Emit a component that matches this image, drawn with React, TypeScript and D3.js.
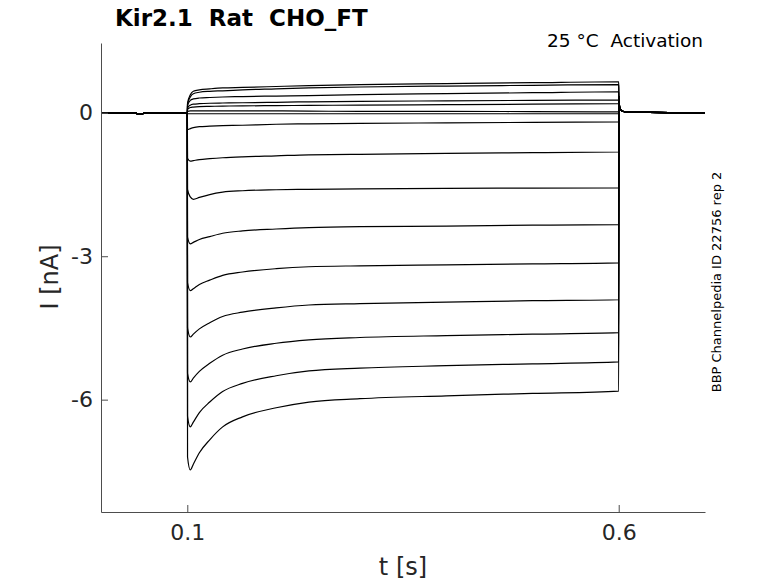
import * as d3 from "d3";
import { useEffect, useRef } from "react";

// recording window and step protocol (seconds)
const baseTimes = [0, 0.04, 0.043, 0.047, 0.051, 0.1];
const baseValues = [0, 0, -0.03, -0.03, 0, 0];

const stepTimes = [0.1003, 0.1035, 0.107, 0.114, 0.126, 0.141, 0.164, 0.203, 0.241, 0.3, 0.4, 0.5, 0.6];

const tailTimes = [0.6002, 0.601, 0.603, 0.608, 0.7];
const tailValues = [0.35, 0.12, 0.05, 0.02, 0];

// outward currents (nA)
const outwardTraces = [
  [0.2, 0.38, 0.45, 0.48, 0.5, 0.52, 0.53, 0.55, 0.57, 0.59, 0.61, 0.63, 0.65],
  [0.18, 0.33, 0.4, 0.43, 0.45, 0.46, 0.48, 0.5, 0.52, 0.54, 0.56, 0.575, 0.59],
  [0.15, 0.26, 0.29, 0.31, 0.32, 0.33, 0.34, 0.35, 0.36, 0.38, 0.4, 0.42, 0.44],
  [0.1, 0.16, 0.18, 0.19, 0.2, 0.205, 0.21, 0.22, 0.23, 0.24, 0.25, 0.26, 0.27],
  [0.07, 0.11, 0.12, 0.13, 0.135, 0.14, 0.145, 0.15, 0.155, 0.16, 0.17, 0.18, 0.19],
  [0.03, 0.04, 0.04, 0.04, 0.04, 0.04, 0.04, 0.04, 0.035, 0.03, 0.03, 0.025, 0.02],
  [-0.02, -0.02, -0.02, -0.02, -0.02, -0.02, -0.02, -0.02, -0.02, -0.02, -0.02, -0.02, -0.02],
];

// inward currents (nA)
const inwardTraces = [
  [-0.35, -0.33, -0.31, -0.29, -0.28, -0.27, -0.26, -0.24, -0.23, -0.22, -0.21, -0.2, -0.19],
  [-0.95, -1.01, -1.0, -0.98, -0.96, -0.94, -0.92, -0.9, -0.88, -0.87, -0.85, -0.835, -0.82],
  [-1.6, -1.76, -1.81, -1.77, -1.71, -1.66, -1.63, -1.61, -1.6, -1.59, -1.58, -1.575, -1.57],
  [-2.6, -2.74, -2.71, -2.65, -2.59, -2.52, -2.47, -2.43, -2.4, -2.38, -2.37, -2.35, -2.34],
  [-3.55, -3.72, -3.68, -3.59, -3.5, -3.4, -3.33, -3.26, -3.22, -3.2, -3.18, -3.16, -3.14],
  [-4.5, -4.69, -4.63, -4.52, -4.39, -4.26, -4.17, -4.08, -4.02, -3.99, -3.96, -3.93, -3.91],
  [-5.45, -5.63, -5.55, -5.41, -5.24, -5.07, -4.94, -4.82, -4.75, -4.7, -4.66, -4.63, -4.6],
  [-6.35, -6.57, -6.47, -6.27, -6.05, -5.83, -5.66, -5.5, -5.4, -5.34, -5.29, -5.25, -5.21],
  [-7.2, -7.47, -7.35, -7.11, -6.84, -6.57, -6.36, -6.17, -6.05, -5.98, -5.92, -5.87, -5.82],
];

const xTicks = [0.1, 0.6];
const yTicks = [-6, -3, 0];

const W = 778;
const H = 583;
const FONT = "'DejaVu Sans', sans-serif";

export default function App() {
  const xAxisRef = useRef(null);
  const yAxisRef = useRef(null);

  const x = d3.scaleLinear().domain([0, 0.7]).range([101, 705]);
  const y = d3.scaleLinear().domain([-8.35, 1.46]).range([512, 43]);

  const line = d3
    .line<[number, number]>()
    .x((d) => x(d[0]))
    .y((d) => y(d[1]))
    .curve(d3.curveMonotoneX);

  const buildTrace = (vals: number[]): [number, number][] => [
    ...baseTimes.map((t, i) => [t, baseValues[i]] as [number, number]),
    ...stepTimes.map((t, i) => [t, vals[i]] as [number, number]),
    ...tailTimes.map((t, i) => [t, tailValues[i]] as [number, number]),
  ];

  const allTraces = [...outwardTraces, ...inwardTraces];

  useEffect(() => {
    const styleAxis = (g) => {
      g.select(".domain").attr("stroke", "#4d4d4d");
      g.selectAll(".tick line").attr("stroke", "#4d4d4d");
      g.selectAll("text")
        .attr("fill", "#262626")
        .style("font-family", FONT)
        .style("font-size", "22px");
    };

    const xg = d3.select(xAxisRef.current);
    xg.call(
      d3
        .axisBottom(x)
        .tickValues(xTicks)
        .tickSizeInner(-7)
        .tickSizeOuter(0)
        .tickPadding(12)
        .tickFormat((d) => String(d))
    );
    styleAxis(xg);

    const yg = d3.select(yAxisRef.current);
    yg.call(
      d3
        .axisLeft(y)
        .tickValues(yTicks)
        .tickSizeInner(-7)
        .tickSizeOuter(0)
        .tickPadding(8)
        .tickFormat((d) => String(d))
    );
    styleAxis(yg);
  }, []);

  return (
    <svg
      width={W}
      height={H}
      style={{ position: "absolute", left: 0, top: 0, background: "#fff" }}
    >
      <g>
        {allTraces.map((vals, i) => (
          <path
            key={i}
            d={line(buildTrace(vals)) ?? ""}
            fill="none"
            stroke="#000"
            strokeWidth={1.2}
          />
        ))}
      </g>

      <g ref={xAxisRef} transform={`translate(0, ${y.range()[0]})`} />
      <g ref={yAxisRef} transform={`translate(${x.range()[0]}, 0)`} />

      <text
        x={115}
        y={26}
        fontFamily={FONT}
        fontWeight="bold"
        fontSize={23}
        fill="#000"
        style={{ whiteSpace: "pre" }}
      >
        Kir2.1  Rat  CHO_FT
      </text>
      <text
        x={703}
        y={47}
        textAnchor="end"
        fontFamily={FONT}
        fontSize={18.5}
        fill="#000"
        style={{ whiteSpace: "pre" }}
      >
        25 °C  Activation
      </text>
      <text
        x={403}
        y={575}
        textAnchor="middle"
        fontFamily={FONT}
        fontSize={24}
        fill="#262626"
      >
        t [s]
      </text>
      <text
        transform={`translate(58, 277) rotate(-90)`}
        textAnchor="middle"
        fontFamily={FONT}
        fontSize={24}
        fill="#262626"
      >
        I [nA]
      </text>
      <text
        transform={`translate(721, 282) rotate(-90)`}
        textAnchor="middle"
        fontFamily={FONT}
        fontSize={13}
        fill="#000"
      >
        BBP Channelpedia ID 22756 rep 2
      </text>
    </svg>
  );
}
